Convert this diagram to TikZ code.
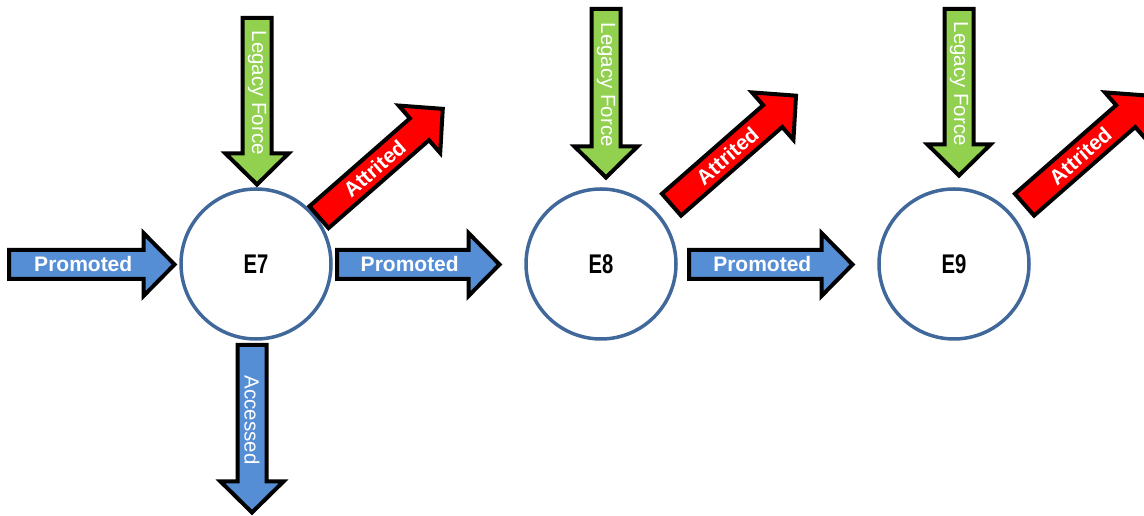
\documentclass[tikz,border=0pt]{standalone}
\usepackage{fontspec}
\setmainfont{Liberation Sans}
\usetikzlibrary{shapes.geometric}
\definecolor{promblue}{RGB}{85,142,213}
\definecolor{legacygreen}{RGB}{146,208,80}
\definecolor{attred}{RGB}{255,0,0}
\definecolor{ringblue}{RGB}{65,104,155}
\def\arSW{14.5}
\def\arHW{31.5}
\def\arHL{31}
% #1 name, #2 base point, #3 angle, #4 length, #5 fill, #6 label style, #7 text
\newcommand\blockarrow[7]{%
  \begin{scope}[shift={#2}, rotate=#3]
    \draw[arrowbox, fill=#5] (0,-\arSW) -- ({#4-\arHL},-\arSW) -- ({#4-\arHL},-\arHW)
      -- (#4,0) -- ({#4-\arHL},\arHW) -- ({#4-\arHL},\arSW) -- (0,\arSW) -- cycle;
    \node[#6, rotate=#3] (#1) at ({(#4-\arHL)/2+7},0) {#7};
  \end{scope}}
\tikzset{
  arrowbox/.style={draw=black, line width=4pt, line join=miter},
  boldlbl/.style={text=white, inner sep=0pt, font=\fontsize{21}{24}\selectfont\bfseries},
  reglbl/.style={text=white, inner sep=0pt, font=\fontsize{20.5}{24}\selectfont},
  grade/.style={circle, draw=ringblue, line width=3.5pt, fill=white, minimum size=150pt, inner sep=0pt,
    font=\fontsize{27}{30}\selectfont\bfseries}
}
\begin{document}
\begin{tikzpicture}[x=1pt,y=1pt]
\useasboundingbox (0,0) rectangle (1144,516);
\clip (0,0) rectangle (1144,516);
% grade circles
\node[grade] (e7) at (256,252) {\scalebox{0.75}[1]{E7}};
\node[grade] (e8) at (601,252) {\scalebox{0.75}[1]{E8}};
\node[grade] (e9) at (954,252) {\scalebox{0.75}[1]{E9}};
% promoted arrows
\blockarrow{p1}{(9,251.5)}{0}{165.5}{promblue}{boldlbl}{Promoted}
\blockarrow{p2}{(337,251.5)}{0}{162.5}{promblue}{boldlbl}{Promoted}
\blockarrow{p3}{(689,251.5)}{0}{163.5}{promblue}{boldlbl}{Promoted}
% legacy force arrows
\blockarrow{lf7}{(257,498)}{-90}{166.5}{legacygreen}{reglbl}{Legacy Force}
\blockarrow{lf8}{(606,507)}{-90}{168.5}{legacygreen}{reglbl}{Legacy Force}
\blockarrow{lf9}{(959,507)}{-90}{166.5}{legacygreen}{reglbl}{Legacy Force}
% accessed arrow
\blockarrow{acc}{(252,171)}{-90}{167.5}{promblue}{reglbl}{Accessed}
% attrited arrows
\blockarrow{at7}{(319,298.8)}{41.2}{164.5}{attred}{boldlbl}{Attrited}
\blockarrow{at8}{(671.5,311.3)}{41.2}{165.5}{attred}{boldlbl}{Attrited}
\blockarrow{at9}{(1024.5,311.3)}{41.2}{165.5}{attred}{boldlbl}{Attrited}
\end{tikzpicture}
\end{document}
